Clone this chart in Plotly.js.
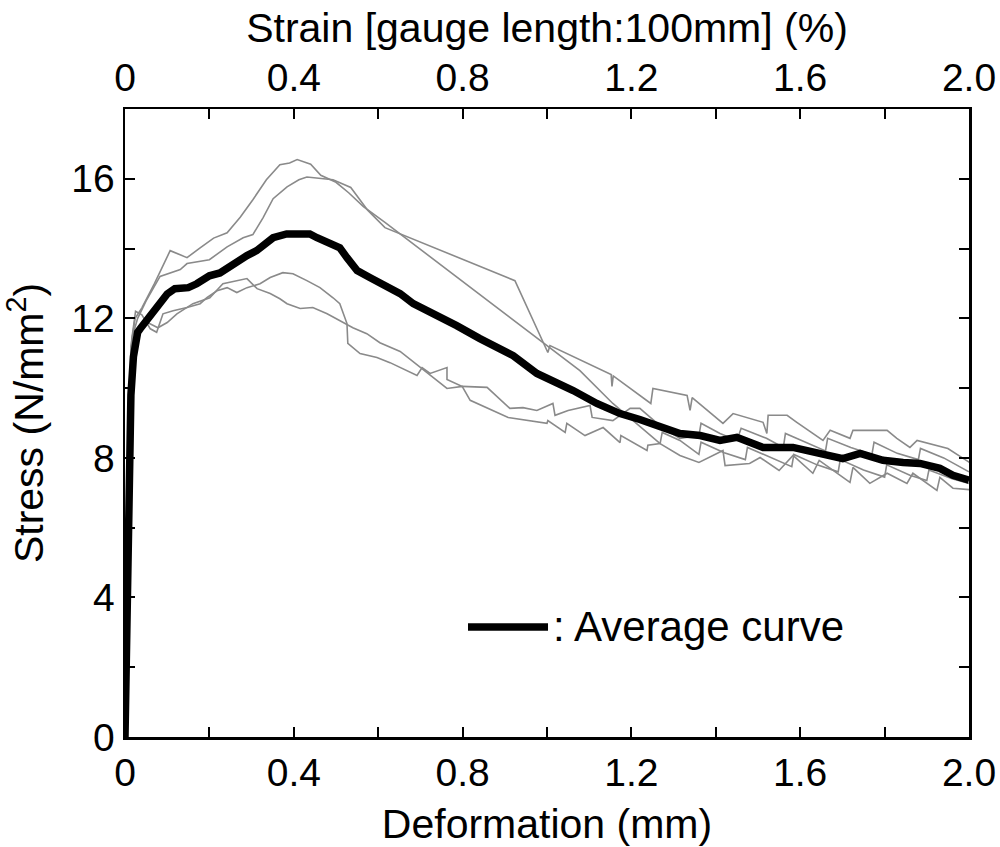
<!DOCTYPE html>
<html>
<head>
<meta charset="utf-8">
<script src="https://cdn.plot.ly/plotly-3.0.1.min.js"></script>
<style>html,body{margin:0;padding:0;background:#fff;}#chart{width:1000px;height:847px;}</style>
</head>
<body>
<div id="chart"></div>
<script>
// Deformation (mm) / stress (N/mm^2)
const avgX = [0,0.004,0.009,0.014,0.02,0.03,0.036,0.071,0.1,0.118,0.15,0.17,0.2,0.225,0.256,0.289,0.312,0.336,0.351,0.383,0.438,0.455,0.486,0.509,0.526,0.55,0.58,0.62,0.652,0.683,0.754,0.786,0.841,0.92,0.976,1.014,1.062,1.118,1.173,1.22,1.268,1.315,1.363,1.41,1.45,1.488,1.512,1.583,1.64,1.701,1.742,1.796,1.844,1.884,1.931,1.962,2.0];
const avgY = [0,4,8,9.8,10.9,11.6,11.7,12.22,12.7,12.85,12.88,12.99,13.22,13.3,13.57,13.8,13.94,14.14,14.31,14.42,14.42,14.31,14.14,14.02,13.74,13.37,13.17,12.88,12.71,12.42,12.02,11.79,11.42,10.93,10.42,10.22,9.93,9.56,9.27,9.1,8.87,8.7,8.64,8.5,8.59,8.44,8.3,8.3,8.13,7.98,8.13,7.93,7.87,7.84,7.7,7.5,7.36];

const specAX = [0,0.008,0.014,0.024,0.04,0.07,0.107,0.147,0.178,0.21,0.242,0.273,0.303,0.335,0.367,0.39,0.408,0.44,0.464,0.5,0.53,0.565,0.616,0.992,1.078,1.156,1.22,1.268,1.315,1.36,1.417,1.422,1.48,1.505,1.55,1.583,1.63,1.645,1.718,1.725,1.765,1.806,1.853,1.867,1.924,1.931,1.962,2.02];
const specAY = [0,8.0,11.2,12.0,12.3,13.0,13.94,13.74,14.02,14.3,14.45,14.9,15.4,15.97,16.4,16.45,16.55,16.42,16.1,15.9,15.6,15.2,14.75,11.28,10.5,9.56,8.9,8.41,8.07,7.87,8.21,7.78,7.84,8.01,7.64,8.07,7.56,7.93,7.3,7.73,7.27,7.56,7.27,7.56,7.07,7.44,7.13,7.07];

const specBX = [0,0.01,0.018,0.03,0.05,0.083,0.131,0.147,0.2,0.242,0.28,0.303,0.327,0.351,0.384,0.412,0.431,0.462,0.493,0.535,0.575,0.616,0.924,1.002,1.007,1.152,1.154,1.157,1.246,1.251,1.332,1.339,1.344,1.417,1.441,1.512,1.521,1.524,1.569,1.592,1.654,1.671,1.718,1.725,1.806,1.829,1.86,1.877,1.95,2.019];
const specBY = [0,9.5,11.5,12.0,12.5,13.2,13.4,13.57,13.68,14.05,14.31,14.4,14.88,15.43,15.77,15.97,16.05,16.02,15.97,15.75,15.1,14.6,13.08,11.02,11.22,10.39,10.05,10.35,9.56,9.99,9.79,9.36,9.73,8.99,9.27,9.02,8.7,9.22,9.22,9.02,8.5,8.79,8.56,8.79,8.79,8.56,8.3,8.5,8.27,7.73];

const specCX = [0,0.008,0.016,0.025,0.04,0.06,0.075,0.09,0.114,0.147,0.178,0.194,0.218,0.242,0.265,0.289,0.32,0.344,0.374,0.398,0.431,0.462,0.493,0.509,0.526,0.528,0.557,0.597,0.628,0.656,0.692,0.704,0.723,0.763,0.763,0.799,0.858,0.912,0.943,0.976,1.014,1.019,1.05,1.102,1.107,1.156,1.197,1.22,1.273,1.315,1.36,1.365,1.41,1.45,1.46,1.52,1.56,1.565,1.62,1.66,1.665,1.72,1.77,1.775,1.83,1.88,1.885,1.94,2.0];
const specCY = [0,7,11.4,12.2,12.1,11.7,11.6,12.13,12.22,12.31,12.42,12.59,12.79,12.88,12.74,12.88,12.99,13.17,13.31,13.28,13.08,12.88,12.59,12.42,11.85,11.28,10.99,10.88,10.73,10.56,10.36,10.59,10.42,10.59,10.25,10.05,10.02,9.42,9.44,9.36,9.56,9.22,9.36,9.5,9.16,9.07,9.42,9.42,8.87,8.56,8.64,8.99,8.7,8.5,8.85,8.56,8.3,8.7,8.4,8.2,8.56,8.3,8.1,8.45,8.13,7.95,8.27,8.0,7.6];

const specDX = [0,0.01,0.02,0.03,0.05,0.078,0.1,0.123,0.161,0.201,0.232,0.265,0.289,0.313,0.344,0.367,0.384,0.415,0.445,0.479,0.509,0.54,0.573,0.604,0.652,0.763,0.799,0.818,0.908,1.0,1.002,1.043,1.047,1.09,1.133,1.173,1.175,1.237,1.239,1.268,1.273,1.315,1.36,1.365,1.42,1.47,1.475,1.53,1.58,1.585,1.64,1.69,1.695,1.75,1.8,1.805,1.86,1.9,1.905,1.96,2.02];
const specDY = [0,8,10.8,11.5,11.9,11.73,11.88,12.13,12.42,12.59,12.99,13.08,13.14,12.85,12.71,12.56,12.42,12.28,12.31,12.13,11.93,11.73,11.56,11.3,11.05,9.99,10.05,9.65,9.16,8.99,9.07,8.73,8.99,8.64,8.87,8.44,8.64,8.21,8.36,8.41,8.73,8.5,8.1,8.45,8.15,7.95,8.3,8.0,7.75,8.1,7.8,7.6,7.95,7.65,7.45,7.8,7.5,7.35,7.65,7.4,7.2];

const xTicks = [0,0.4,0.8,1.2,1.6,2.0];
const xTickText = ["0","0.4","0.8","1.2","1.6","2.0"];
const yTicks = [0,4,8,12,16];
const yTickText = ["0","4","8","12","16"];
const legendText = ": Average curve";

const FONT = "Liberation Sans, Arial, sans-serif";
const gray = "#8a8a8a";
const specimens = [[specAX,specAY],[specBX,specBY],[specCX,specCY],[specDX,specDY]];
const traces = specimens.map(s => ({
  x: s[0], y: s[1], type: "scatter", mode: "lines",
  line: {color: gray, width: 1.6}, showlegend: false, hoverinfo: "skip"
}));
traces.push({x: avgX, y: avgY, type: "scatter", mode: "lines",
  line: {color: "#000", width: 7.5}, showlegend: false});
traces.push({x: avgX, y: avgY, xaxis: "x2", type: "scatter", mode: "lines",
  line: {color: "rgba(0,0,0,0)", width: 0}, showlegend: false, hoverinfo: "skip"});

const axBase = {
  showline: true, linewidth: 2.5, linecolor: "#000",
  ticks: "inside", ticklen: 10, tickwidth: 2, tickcolor: "#000",
  showgrid: false, zeroline: false,
  tickfont: {family: FONT, size: 39, color: "#000"}
};

const layout = {
  width: 1000, height: 847,
  margin: {l: 125, r: 31, t: 109, b: 110},
  paper_bgcolor: "#fff", plot_bgcolor: "#fff",
  font: {family: FONT, color: "#000"},
  xaxis: Object.assign({}, axBase, {
    range: [0, 2.0], tickmode: "array", tickvals: xTicks, ticktext: xTickText,
    minor: {dtick: 0.2, tick0: 0, ticks: "inside", ticklen: 10, tickwidth: 2, tickcolor: "#000"},
    title: {text: "Deformation (mm)", font: {family: FONT, size: 41, color: "#000"}, standoff: 17}
  }),
  xaxis2: Object.assign({}, axBase, {
    range: [0, 2.0], overlaying: "x", side: "top", anchor: "y",
    tickmode: "array", tickvals: xTicks, ticktext: xTickText,
    minor: {dtick: 0.2, tick0: 0, ticks: "inside", ticklen: 10, tickwidth: 2, tickcolor: "#000"},
    title: {text: "Strain [gauge length:100mm] (%)", font: {family: FONT, size: 41, color: "#000"}, standoff: 1}
  }),
  yaxis: Object.assign({}, axBase, {
    range: [0, 18], mirror: "ticks", tickmode: "array", tickvals: yTicks, ticktext: yTickText,
    minor: {dtick: 2, tick0: 0, ticks: "inside", ticklen: 10, tickwidth: 2, tickcolor: "#000"},
    title: {text: "Stress (N/mm<sup>2</sup>)", font: {family: FONT, size: 41, color: "#000"}, standoff: 16}
  }),
  shapes: [{type: "line", xref: "paper", yref: "paper", x0: 0.4064, x1: 0.5012, y0: 0.1752, y1: 0.1752,
    line: {color: "#000", width: 7.5}}],
  annotations: [{xref: "paper", yref: "paper", x: 0.505, y: 0.1752, xanchor: "left", yanchor: "middle",
    text: legendText, showarrow: false, font: {family: FONT, size: 42, color: "#000"}}]
};

Plotly.newPlot("chart", traces, layout, {staticPlot: true, displayModeBar: false});
</script>
</body>
</html>
